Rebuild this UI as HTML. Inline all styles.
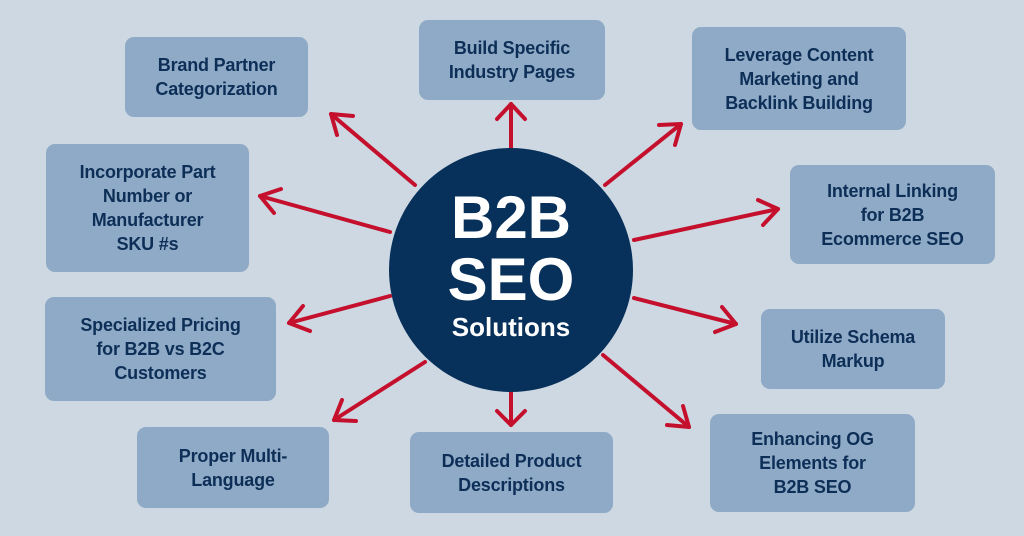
<!DOCTYPE html>
<html><head><meta charset="utf-8"><style>
html,body{margin:0;padding:0}
body{width:1024px;height:536px;background:#cdd8e2;position:relative;overflow:hidden;font-family:"Liberation Sans",sans-serif}
.b{position:absolute;background:#8faac6;border-radius:9px;display:flex;align-items:center;justify-content:center;text-align:center;color:#0d2f57;font-weight:bold;font-size:18px;line-height:24px;letter-spacing:-0.2px}
svg{position:absolute;left:0;top:0}
.c{position:absolute;left:389px;top:148px;width:244px;height:244px;border-radius:50%;background:#07305a;color:#fff;text-align:center;font-weight:bold}
</style></head><body>
<svg width="1024" height="536">
<g stroke="#c5102d" stroke-width="4" fill="none" stroke-linecap="round" stroke-linejoin="round">
<line x1="415" y1="185" x2="331" y2="114"/><line x1="511" y1="148" x2="511" y2="104"/>
<line x1="605" y1="185" x2="681" y2="124"/><line x1="390" y1="232" x2="260" y2="196"/>
<line x1="634" y1="240" x2="778" y2="209"/><line x1="390" y1="296" x2="289" y2="323"/>
<line x1="634" y1="298" x2="736" y2="324"/><line x1="425" y1="362" x2="334" y2="420"/>
<line x1="511" y1="392" x2="511" y2="425"/><line x1="603" y1="355" x2="689" y2="427"/>
</g>
<g fill="none" stroke="#c5102d" stroke-width="4" stroke-linecap="round" stroke-linejoin="round">
<polyline points="337,135 331,114 353,116"/>
<polyline points="497,119 511,104 525,119"/>
<polyline points="659,125 681,124 675,145"/>
<polyline points="274,213 260,196 281,189"/>
<polyline points="758,200 778,209 763,225"/>
<polyline points="310,331 289,323 303,306"/>
<polyline points="722,307 736,324 715,332"/>
<polyline points="356,421 334,420 342,400"/>
<polyline points="497,411 511,425 525,411"/>
<polyline points="683,406 689,427 667,425"/>
</g></svg>
<div class="c"><div style="font-size:60px;line-height:60px;margin-top:40px">B2B</div><div style="font-size:60px;line-height:60px;margin-top:2px">SEO</div><div style="font-size:26px;line-height:30px;margin-top:2px">Solutions</div></div>
<div class="b" style="left:125px;top:37px;width:183px;height:80px">Brand Partner<br>Categorization</div>
<div class="b" style="left:419px;top:20px;width:186px;height:80px">Build Specific<br>Industry Pages</div>
<div class="b" style="left:692px;top:27px;width:214px;height:103px">Leverage Content<br>Marketing and<br>Backlink Building</div>
<div class="b" style="left:46px;top:144px;width:203px;height:128px">Incorporate Part<br>Number or<br>Manufacturer<br>SKU #s</div>
<div class="b" style="left:790px;top:165px;width:205px;height:99px">Internal Linking<br>for B2B<br>Ecommerce SEO</div>
<div class="b" style="left:45px;top:297px;width:231px;height:104px">Specialized Pricing<br>for B2B vs B2C<br>Customers</div>
<div class="b" style="left:761px;top:309px;width:184px;height:80px">Utilize Schema<br>Markup</div>
<div class="b" style="left:137px;top:427px;width:192px;height:81px">Proper Multi-<br>Language</div>
<div class="b" style="left:410px;top:432px;width:203px;height:81px">Detailed Product<br>Descriptions</div>
<div class="b" style="left:710px;top:414px;width:205px;height:98px">Enhancing OG<br>Elements for<br>B2B SEO</div>
</body></html>
